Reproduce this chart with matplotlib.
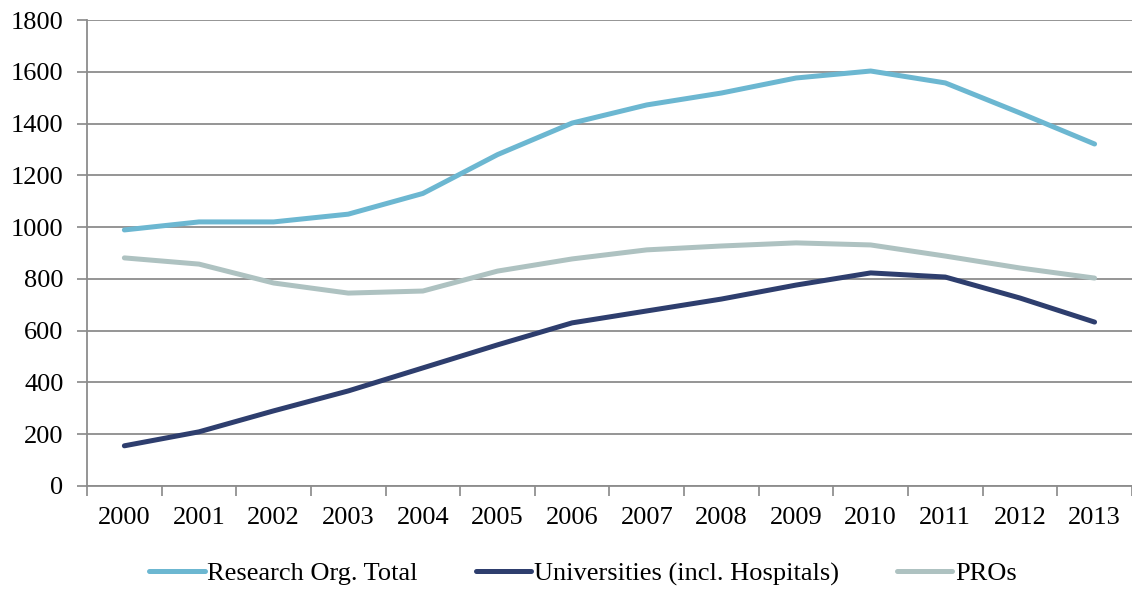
import matplotlib.pyplot as plt
import numpy as np

years = ['2000', '2001', '2002', '2003', '2004', '2005', '2006',
         '2007', '2008', '2009', '2010', '2011', '2012', '2013']
research_total = [989, 1020, 1020, 1050, 1130, 1280, 1402, 1472, 1518, 1576, 1603, 1557, 1441, 1321]
universities = [155, 209, 290, 367, 456, 545, 630, 676, 722, 776, 823, 807, 726, 633]
pros = [881, 857, 784, 745, 753, 830, 877, 912, 927, 939, 931, 888, 842, 803]

plt.rcParams['font.family'] = ['Liberation Serif', 'DejaVu Serif']

fig = plt.figure(figsize=(11.32, 5.89), dpi=100)
ax = fig.add_axes([0.0769, 0.175, 0.923, 0.791])

x = np.arange(len(years))
lw = 3.6
ax.plot(x, research_total, color='#6cb7d1', lw=lw, solid_capstyle='round', solid_joinstyle='round',
        label='Research Org. Total')
ax.plot(x, universities, color='#2e3e6e', lw=lw, solid_capstyle='round', solid_joinstyle='round',
        label='Universities (incl. Hospitals)')
ax.plot(x, pros, color='#aec2c1', lw=lw, solid_capstyle='round', solid_joinstyle='round',
        label='PROs')

ax.set_xlim(-0.5, 13.5)
ax.set_ylim(0, 1800)
ax.set_yticks(range(0, 1801, 200))
ax.set_xticks(x)
ax.set_xticklabels(years)
ax.set_xticks(np.arange(-0.5, 14, 1), minor=True)
ax.tick_params(axis='x', which='major', length=0, labelsize=19, pad=15)
ax.tick_params(axis='x', which='minor', length=7, width=1.2, color='#888888')
ax.tick_params(axis='y', length=7, width=1.2, color='#888888', labelsize=19, pad=10)
ax.yaxis.grid(True, color='#8c8c8c', lw=1.3)
ax.set_axisbelow(True)
for s in ['top', 'right']:
    ax.spines[s].set_visible(False)
for s in ['left', 'bottom']:
    ax.spines[s].set_color('#8c8c8c')
    ax.spines[s].set_linewidth(1.3)

fig.legend(loc='center', bbox_to_anchor=(0.515, 0.026), ncol=3, frameon=False,
           fontsize=19, handlelength=2.1, handletextpad=0.1, columnspacing=2.2)

fig.savefig('out.png', dpi=100)
